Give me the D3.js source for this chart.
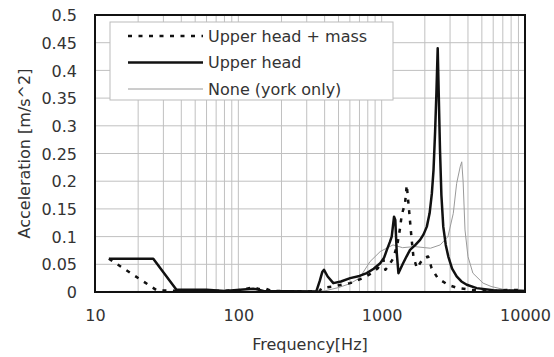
<!DOCTYPE html>
<html>
<head>
<meta charset="utf-8">
<script src="https://cdn.jsdelivr.net/npm/d3@7"></script>
<style>
  body { margin: 0; background: #fff; }
  text { font-family: "DejaVu Sans", Verdana, sans-serif; fill: #333; }
</style>
</head>
<body>
<div id="chart"></div>
<script>
// [frequency Hz, acceleration m/s^2]
const headMass = [
  [12.5, 0.06], [27, 0.003], [40, 0.002], [70, 0.002], [100, 0.003], [115, 0.006], [127, 0.009],
  [140, 0.005], [153, 0.007], [170, 0.002], [300, 0.001], [370, 0.002], [380, 0.007], [460, 0.01],
  [603, 0.016], [741, 0.025], [850, 0.034], [940, 0.043], [1030, 0.058], [1060, 0.04], [1110, 0.046],
  [1200, 0.06], [1285, 0.085], [1343, 0.115], [1380, 0.139], [1456, 0.16], [1496, 0.193],
  [1560, 0.142], [1593, 0.115], [1620, 0.094], [1665, 0.064], [1760, 0.043], [1950, 0.061],
  [2110, 0.064], [2230, 0.043], [2460, 0.025], [2900, 0.013], [3400, 0.007], [4500, 0.003],
  [6000, 0.002], [8000, 0.004], [10000, 0.003]
];
const head = [
  [12.5, 0.06], [25.5, 0.06], [37, 0.004], [60, 0.004], [80, 0.002], [103, 0.004], [127, 0.006],
  [150, 0.002], [350, 0.001], [370, 0.02], [385, 0.036], [396, 0.04], [420, 0.028], [460, 0.016],
  [520, 0.019], [603, 0.025], [700, 0.029], [787, 0.034], [880, 0.042], [977, 0.052], [1040, 0.062],
  [1087, 0.076], [1140, 0.09], [1175, 0.1], [1220, 0.136], [1245, 0.13], [1275, 0.07],
  [1309, 0.034], [1400, 0.05], [1490, 0.064], [1578, 0.076], [1720, 0.085], [1854, 0.094],
  [1960, 0.104], [2066, 0.118], [2160, 0.142], [2240, 0.178], [2300, 0.22], [2360, 0.29],
  [2410, 0.36], [2460, 0.44], [2500, 0.36], [2553, 0.256], [2610, 0.175], [2690, 0.118],
  [2800, 0.085], [2917, 0.064], [3100, 0.042], [3335, 0.028], [3600, 0.019], [3924, 0.013],
  [4600, 0.007], [6000, 0.003], [10000, 0.002]
];
const none = [
  [12.5, 0.001], [100, 0.001], [400, 0.002], [500, 0.008], [600, 0.015], [700, 0.025], [830, 0.055],
  [977, 0.073], [1100, 0.08], [1200, 0.085], [1400, 0.08], [1700, 0.082], [2000, 0.08],
  [2190, 0.079], [2560, 0.085], [2900, 0.1], [3160, 0.142], [3335, 0.196], [3530, 0.226],
  [3620, 0.235], [3700, 0.2], [3815, 0.112], [4000, 0.064], [4330, 0.034], [5100, 0.016],
  [5800, 0.01], [7000, 0.005], [10000, 0.003]
];
const yTicks = [0, 0.05, 0.1, 0.15, 0.2, 0.25, 0.3, 0.35, 0.4, 0.45, 0.5];
const xTicks = [10, 100, 1000, 10000];
const seriesNames = ["Upper head + mass", "Upper head", "None (york only)"];

const width = 554, height = 357;
const margin = { top: 15, right: 29, bottom: 65, left: 95 };

const svg = d3.select("#chart").append("svg")
  .attr("width", width).attr("height", height);

const x = d3.scaleLog().domain([10, 10000]).range([margin.left, width - margin.right]);
const y = d3.scaleLinear().domain([0, 0.5]).range([height - margin.bottom, margin.top]);

// grid
const minor = [];
for (let d = 10; d < 10000; d *= 10) for (let k = 1; k < 10; k++) minor.push(d * k);
svg.append("g").selectAll("line").data(minor.slice(1)).join("line")
  .attr("x1", d => x(d)).attr("x2", d => x(d))
  .attr("y1", y(0)).attr("y2", y(0.5))
  .attr("stroke", "#c0c0c0").attr("stroke-width", 1);
svg.append("g").selectAll("line").data(yTicks.slice(1)).join("line")
  .attr("x1", x(10)).attr("x2", x(10000))
  .attr("y1", d => y(d)).attr("y2", d => y(d))
  .attr("stroke", "#c0c0c0").attr("stroke-width", 1);

// axes (labels only)
const yAxis = svg.append("g")
  .attr("transform", `translate(${margin.left - 15},0)`)
  .call(d3.axisLeft(y).tickValues(yTicks).tickSize(0).tickFormat(d => String(+d.toFixed(2))));
yAxis.select(".domain").remove();
yAxis.selectAll("text").style("font-size", "16px").attr("fill", "#333").attr("dy", "0.35em");

const xAxis = svg.append("g")
  .attr("transform", `translate(0,${y(0) + 15})`)
  .call(d3.axisBottom(x).tickValues(xTicks).tickSize(0).tickFormat(d3.format("d")));
xAxis.select(".domain").remove();
xAxis.selectAll("text").style("font-size", "16px").attr("fill", "#333").attr("dy", "0.71em");

svg.append("text")
  .attr("x", (x(10) + x(10000)) / 2).attr("y", 350)
  .attr("text-anchor", "middle").style("font-size", "16px")
  .text("Frequency[Hz]");

svg.append("text")
  .attr("transform", `translate(30,${(y(0) + y(0.5)) / 2}) rotate(-90)`)
  .attr("text-anchor", "middle").style("font-size", "16px")
  .text("Acceleration [m/s^2]");

// lines
const line = d3.line().x(d => x(d[0])).y(d => y(d[1]));
const styles = [
  { data: headMass, w: 2.5, color: "#111", dash: "4,6.5" },
  { data: head, w: 2.5, color: "#111", dash: null },
  { data: none, w: 1, color: "#9a9a9a", dash: null }
];
svg.append("g").selectAll("path").data(styles.slice().reverse()).join("path")
  .attr("d", d => line(d.data))
  .attr("fill", "none")
  .attr("stroke", d => d.color)
  .attr("stroke-width", d => d.w)
  .attr("stroke-dasharray", d => d.dash)
  .attr("stroke-linejoin", "round");

// frame
svg.append("rect")
  .attr("x", x(10)).attr("y", y(0.5))
  .attr("width", x(10000) - x(10)).attr("height", y(0) - y(0.5))
  .attr("fill", "none").attr("stroke", "#111").attr("stroke-width", 2);

// legend
const legend = svg.append("g").attr("transform", "translate(110,22)");
legend.append("rect").attr("width", 283).attr("height", 78)
  .attr("fill", "#fff").attr("stroke", "#bbb").attr("stroke-width", 1);
seriesNames.forEach((t, i) => {
  const g = legend.append("g").attr("transform", `translate(0,${14 + i * 26.5})`);
  g.append("line").attr("x1", 18).attr("x2", 93)
    .attr("stroke", styles[i].color).attr("stroke-width", styles[i].w)
    .attr("stroke-dasharray", styles[i].dash);
  g.append("text").attr("x", 98).attr("dy", "0.35em").style("font-size", "16px").text(t);
});
</script>
</body>
</html>
